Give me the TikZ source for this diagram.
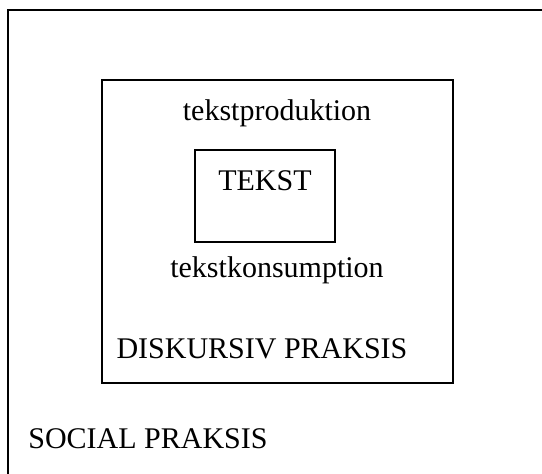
\documentclass[tikz,border=0pt]{standalone}
\usepackage{fontspec}
\setmainfont{Liberation Serif}
\usepackage{tikz}
\usetikzlibrary{positioning}

\begin{document}
\begin{tikzpicture}[
        x=0.5pt, y=-0.5pt,
        frame/.style={line width=1pt},
        lbl/.style={font=\fontsize{15}{18}\selectfont, inner sep=0pt},
      ]
        \useasboundingbox (0,0) rectangle (542,473);
        % ---- social praksis (cut at the page edge) ----
        \draw[frame] (8,480) |- (550,10);
        \node[lbl, anchor=base west] (social) at (28,448) {SOCIAL PRAKSIS};
        % ---- diskursiv praksis ----
        \draw[frame] (102,80) rectangle (453,383);
        \node[lbl, anchor=base] (diskursiv) at (262,358) {DISKURSIV PRAKSIS};
        \node[lbl, anchor=base] (prod) at (277,120) {tekstproduktion};
        \node[lbl, anchor=base] (kons) at (277,277) {tekstkonsumption};
        % ---- tekst ----
        \draw[frame] (195,150) rectangle (335,242);
        \node[lbl, anchor=base] (tekst) at (265,190) {TEKST};
\end{tikzpicture}
\end{document}
